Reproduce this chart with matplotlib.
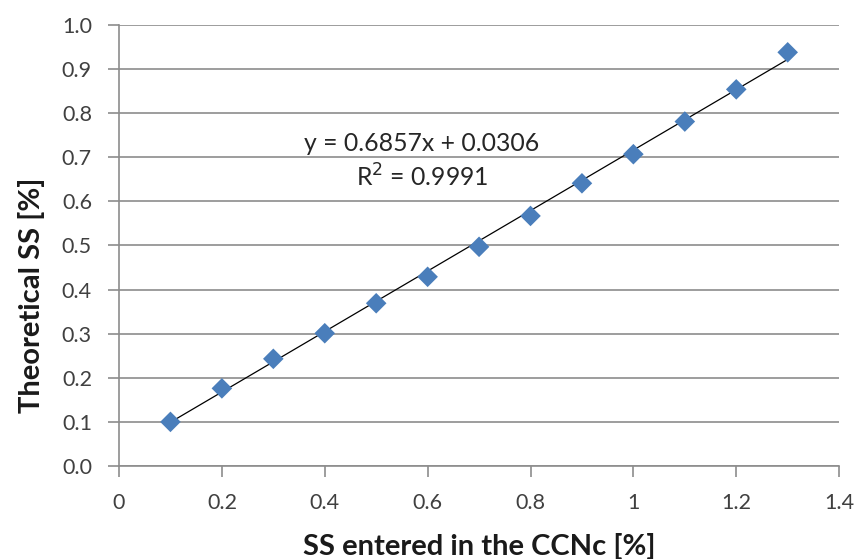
import numpy as np
import matplotlib
matplotlib.use("Agg")
import matplotlib.pyplot as plt

# values
ss_entered = [0.1, 0.2, 0.3, 0.4, 0.5, 0.6, 0.7, 0.8, 0.9, 1.0, 1.1, 1.2, 1.3]
ss_theory = [0.100, 0.176, 0.243, 0.301, 0.369, 0.429, 0.497, 0.567, 0.641, 0.707, 0.781, 0.854, 0.938]
slope, intercept = 0.6857, 0.0306
x_ticks = [0, 0.2, 0.4, 0.6, 0.8, 1, 1.2, 1.4]
x_tick_labels = ['0', '0.2', '0.4', '0.6', '0.8', '1', '1.2', '1.4']
y_ticks = [0.0, 0.1, 0.2, 0.3, 0.4, 0.5, 0.6, 0.7, 0.8, 0.9, 1.0]

plt.rcParams['font.family'] = ['Lato', 'DejaVu Sans']

fig = plt.figure(figsize=(8.58, 5.59), dpi=100)
ax = fig.add_axes([0.1387, 0.1664, 0.8393, 0.7889])

grid_col = '#8c8c8c'
ax.set_xlim(0, 1.4)
ax.set_ylim(0, 1.0)
ax.set_yticks(y_ticks)
ax.set_yticklabels([f'{v:.1f}' for v in y_ticks])
ax.set_xticks(x_ticks)
ax.set_xticklabels(x_tick_labels)
ax.yaxis.grid(True, color=grid_col, linewidth=1.2)
ax.set_axisbelow(True)

for side in ['top', 'right']:
    ax.spines[side].set_visible(False)
for side in ['left', 'bottom']:
    ax.spines[side].set_color(grid_col)
    ax.spines[side].set_linewidth(1.2)
ax.tick_params(axis='both', colors=grid_col, length=8, width=1.2, labelsize=15.5,
               labelcolor='#404040')
ax.tick_params(axis='x', pad=11.5)
ax.tick_params(axis='y', pad=11.5)

# trend line
xs = np.array([ss_entered[0], ss_entered[-1]])
ax.plot(xs, slope * xs + intercept, color='black', linewidth=0.9, zorder=2)

# data points
ax.scatter(ss_entered, ss_theory, marker='D', s=110, color='#4a7ebb', zorder=3,
           edgecolors='none')

ax.text(0.589, 0.732, f'y = {slope}x + {intercept}', ha='center', va='center',
        fontsize=17.8, color='#262626')
ax.text(0.589, 0.655, 'R$^2$ = 0.9991', ha='center', va='center',
        fontsize=17.8, color='#262626')

ax.set_xlabel('SS entered in the CCNc [%]', fontsize=21, fontweight='bold',
              color='#1a1a1a', labelpad=14)
ax.set_ylabel('Theoretical SS [%]', fontsize=21, fontweight='bold',
              color='#1a1a1a', labelpad=12)
# the axis title sits a bit below the middle of the plot area
ax.yaxis.label.set_y(0.388)

fig.savefig('out.png', dpi=100)
